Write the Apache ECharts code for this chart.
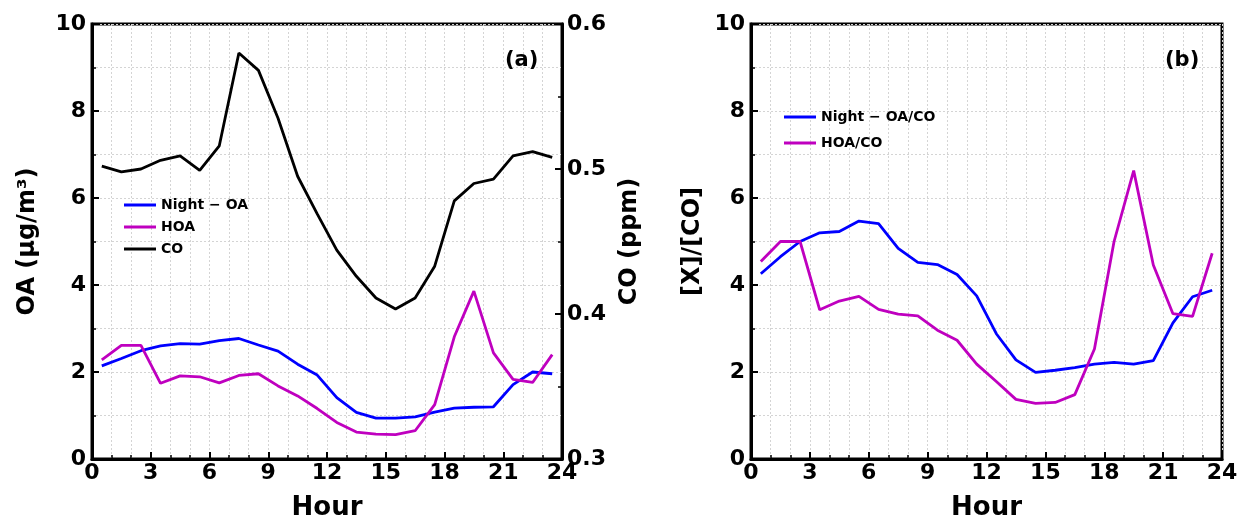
<!DOCTYPE html>
<html>
<head>
<meta charset="utf-8">
<script src="https://cdn.jsdelivr.net/npm/echarts@6/dist/echarts.min.js"></script>
<style>
  html, body { margin: 0; padding: 0; background: #fff; }
  #main { width: 1240px; height: 519px; }
</style>
</head>
<body>
<div id="main"></div>
<script>
// hour of day (bin centres)
var hours = [0.5, 1.5, 2.5, 3.5, 4.5, 5.5, 6.5, 7.5, 8.5, 9.5, 10.5, 11.5,
  12.5, 13.5, 14.5, 15.5, 16.5, 17.5, 18.5, 19.5, 20.5, 21.5, 22.5, 23.5]

// panel (a)
var nightOA = [2.14, 2.31, 2.49, 2.60, 2.65, 2.64, 2.72, 2.77, 2.62, 2.48, 2.18, 1.93,
  1.41, 1.07, 0.94, 0.94, 0.97, 1.08, 1.17, 1.19, 1.20, 1.71, 2.00, 1.96]
var hoa = [2.28, 2.61, 2.61, 1.74, 1.91, 1.89, 1.75, 1.92, 1.96, 1.68, 1.45, 1.16,
  0.84, 0.62, 0.57, 0.56, 0.65, 1.25, 2.81, 3.86, 2.44, 1.83, 1.76, 2.40]
var co = [0.502, 0.498, 0.500, 0.506, 0.509, 0.499, 0.516, 0.580, 0.568, 0.535, 0.495, 0.469,
  0.444, 0.426, 0.411, 0.4035, 0.411, 0.433, 0.478, 0.490, 0.493, 0.509, 0.512, 0.508]

// panel (b)
var nightOAtoCO = [4.26, 4.65, 5.00, 5.20, 5.23, 5.47, 5.41, 4.84, 4.52, 4.47, 4.24, 3.75,
  2.88, 2.28, 1.99, 2.04, 2.10, 2.18, 2.22, 2.18, 2.26, 3.13, 3.73, 3.88]
var hoaToCO = [4.54, 5.00, 5.00, 3.43, 3.63, 3.74, 3.44, 3.33, 3.29, 2.96, 2.73, 2.18,
  1.78, 1.37, 1.28, 1.30, 1.48, 2.53, 5.00, 6.63, 4.46, 3.34, 3.28, 4.73]

var xTicks = [0, 3, 6, 9, 12, 15, 18, 21, 24]

function pairs(vals) {
  return hours.map(function (h, i) { return [h, vals[i]] })
}

var FONT = 'DejaVu Sans'
var gridDash = { color: '#d4d4d4', width: 1, type: [2, 2] }

function xAxisFor(gi) {
  return {
    type: 'value', gridIndex: gi, min: 0, max: 24, interval: 3,
    name: 'Hour', nameLocation: 'middle', nameGap: 36,
    nameTextStyle: { fontFamily: FONT, fontWeight: 'bold', fontSize: 26, color: '#000' },
    axisLine: { lineStyle: { color: '#000', width: 3 } },
    axisTick: { inside: true, length: 7, lineStyle: { color: '#000', width: 2 } },
    minorTick: { show: true, splitNumber: 3, length: 4, lineStyle: { color: '#000', width: 1.5 } },
    axisLabel: {
      fontFamily: FONT, fontWeight: 'bold', fontSize: 22, color: '#000', margin: 3,
      formatter: function (v) { return xTicks.indexOf(v) >= 0 ? String(v) : '' }
    },
    splitLine: { show: true, lineStyle: gridDash },
    minorSplitLine: { show: true, lineStyle: gridDash }
  }
}

function yLeft(gi, name, gap) {
  return {
    type: 'value', gridIndex: gi, min: 0, max: 10, interval: 2, position: 'left',
    name: name, nameLocation: 'middle', nameGap: gap, nameRotate: 90,
    nameTextStyle: { fontFamily: FONT, fontWeight: 'bold', fontSize: 24, color: '#000' },
    axisLine: { show: true, lineStyle: { color: '#000', width: 3 } },
    axisTick: { inside: true, length: 7, lineStyle: { color: '#000', width: 2 } },
    minorTick: { show: true, splitNumber: 2, length: 4, lineStyle: { color: '#000', width: 1.5 } },
    axisLabel: { fontFamily: FONT, fontWeight: 'bold', fontSize: 22, color: '#000', margin: 6 },
    splitLine: { show: true, lineStyle: gridDash },
    minorSplitLine: { show: true, lineStyle: gridDash }
  }
}

function lineSeries(name, color, xi, yi, vals) {
  return {
    name: name, type: 'line', xAxisIndex: xi, yAxisIndex: yi,
    data: pairs(vals), showSymbol: false, symbol: 'none',
    lineStyle: { color: color, width: 2.8 }, itemStyle: { color: color },
    z: 3
  }
}

var chart = echarts.init(document.getElementById('main'), null, { renderer: 'canvas' })

var option = {
  backgroundColor: '#fff',
  animation: false,
  grid: [
    { left: 92, top: 24, width: 470, height: 435, containLabel: false, outerBoundsMode: 'none',
      show: true, borderColor: '#000', borderWidth: 3, backgroundColor: 'transparent' },
    { left: 751, top: 24, width: 471, height: 435, containLabel: false, outerBoundsMode: 'none',
      show: true, borderColor: '#000', borderWidth: 3, backgroundColor: 'transparent' }
  ],
  title: [
    { text: '(a)', left: 500, top: 45, textStyle: { fontFamily: FONT, fontWeight: 'bold', fontSize: 21, color: '#000' } },
    { text: '(b)', left: 1160, top: 45, textStyle: { fontFamily: FONT, fontWeight: 'bold', fontSize: 21, color: '#000' } }
  ],
  legend: [
    {
      data: ['Night − OA', 'HOA', 'CO'], orient: 'vertical', left: 119, top: 193,
      icon: 'rect', itemWidth: 32, itemHeight: 3, itemGap: 8,
      textStyle: { fontFamily: FONT, fontWeight: 'bold', fontSize: 14, color: '#000' }
    },
    {
      data: ['Night − OA/CO', 'HOA/CO'], orient: 'vertical', left: 779, top: 105,
      icon: 'rect', itemWidth: 32, itemHeight: 3, itemGap: 12,
      textStyle: { fontFamily: FONT, fontWeight: 'bold', fontSize: 14, color: '#000' }
    }
  ],
  xAxis: [xAxisFor(0), xAxisFor(1)],
  yAxis: [
    yLeft(0, 'OA (µg/m³)', 52),
    {
      type: 'value', gridIndex: 0, min: 0.3, max: 0.6, interval: 0.1, position: 'right',
      name: 'CO (ppm)', nameLocation: 'middle', nameGap: 56, nameRotate: 90,
      nameTextStyle: { fontFamily: FONT, fontWeight: 'bold', fontSize: 24, color: '#000' },
      axisLine: { show: true, lineStyle: { color: '#000', width: 3 } },
      axisTick: { inside: true, length: 7, lineStyle: { color: '#000', width: 2 } },
      minorTick: { show: true, splitNumber: 2, length: 4, lineStyle: { color: '#000', width: 1.5 } },
      axisLabel: {
        fontFamily: FONT, fontWeight: 'bold', fontSize: 22, color: '#000', margin: 5,
        formatter: function (v) { return v.toFixed(1) }
      },
      splitLine: { show: false }
    },
    yLeft(1, '[X]/[CO]', 46)
  ],
  series: [
    lineSeries('Night − OA', '#0000ff', 0, 0, nightOA),
    lineSeries('HOA', '#bf00bf', 0, 0, hoa),
    lineSeries('CO', '#000000', 0, 1, co),
    lineSeries('Night − OA/CO', '#0000ff', 1, 2, nightOAtoCO),
    lineSeries('HOA/CO', '#bf00bf', 1, 2, hoaToCO)
  ]
}

chart.setOption(option)
</script>
</body>
</html>
